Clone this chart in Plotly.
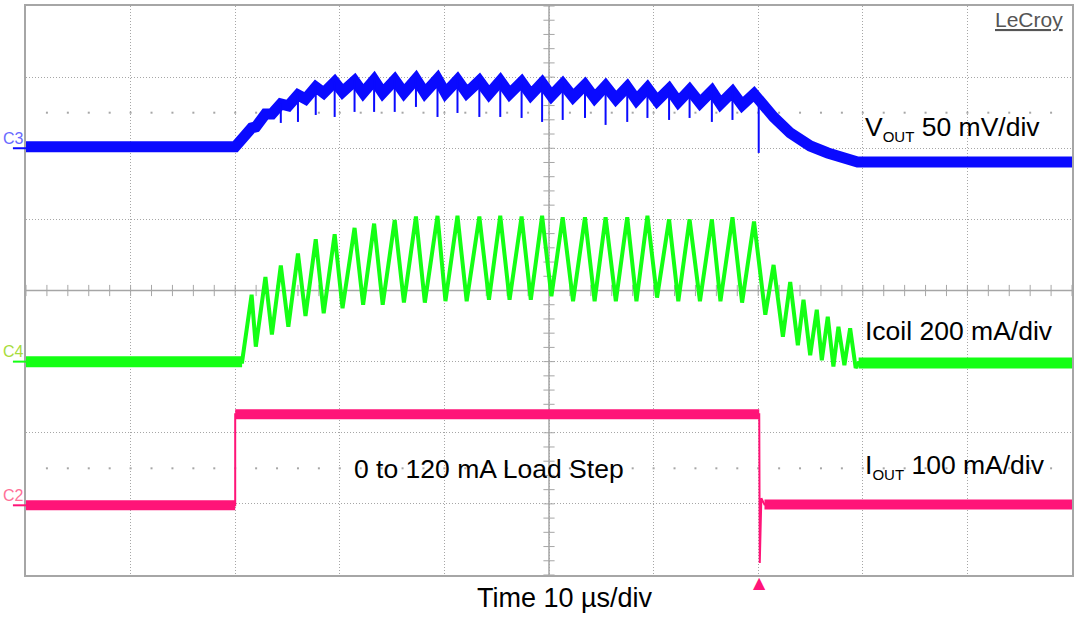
import numpy as np
import plotly.graph_objects as go

# ---------------- data (screen divisions: 0 = centre line, 10 us/div) -------------
# Vout (C3, 50 mV/div)
vout_t = [0, 20.0, 21.57, 21.97, 22.89, 23.51, 24.36, 25.08, 26.0, 26.72, 27.70, 28.46,
          29.51, 30.26, 31.41, 32.23, 33.28, 34.10, 35.25, 36.13, 37.28, 38.13, 39.34, 40.10,
          41.25, 42.13, 43.34, 44.26, 45.34, 46.23, 47.38, 48.26, 49.34, 50.23, 51.31, 52.30,
          53.44, 54.36, 55.41, 56.39, 57.48, 58.36, 59.41, 60.33, 61.48, 62.36, 63.44, 64.43,
          65.57, 66.39, 67.54, 68.46, 69.6, 70.68, 71.47, 73.06, 74.97, 76.65, 78.24, 79.5, 100]
vout_div = [2.02, 2.02, 2.286, 2.300, 2.482, 2.482, 2.623, 2.595, 2.750, 2.693, 2.862, 2.778,
            2.932, 2.792, 2.947, 2.778, 2.961, 2.778, 2.961, 2.778, 2.975, 2.778, 2.975, 2.778,
            2.961, 2.778, 2.947, 2.764, 2.947, 2.764, 2.932, 2.750, 2.918, 2.736, 2.904, 2.721,
            2.890, 2.707, 2.876, 2.693, 2.862, 2.679, 2.848, 2.665, 2.834, 2.651, 2.820, 2.637,
            2.806, 2.623, 2.792, 2.609, 2.764, 2.539, 2.440, 2.215, 2.032, 1.934, 1.850, 1.807, 1.807]
# Vout switching spikes
spike_t = [24.36, 26.0, 27.70, 29.51, 31.41, 33.28, 35.25, 37.28, 39.34, 41.25, 43.34, 45.34,
           47.38, 49.34, 51.31, 53.44, 55.41, 57.48, 59.41, 61.48, 63.44, 65.57, 67.54, 70.05]
spike_top = [2.623, 2.750, 2.862, 2.932, 2.947, 2.961, 2.961, 2.975, 2.975, 2.961, 2.947, 2.947,
             2.932, 2.918, 2.904, 2.890, 2.876, 2.862, 2.848, 2.834, 2.820, 2.806, 2.792, 2.70]
spike_bottom = [2.356, 2.370, 2.468, 2.440, 2.511, 2.511, 2.511, 2.581, 2.440, 2.496, 2.440, 2.440,
                2.426, 2.370, 2.398, 2.426, 2.328, 2.370, 2.426, 2.398, 2.426, 2.370, 2.398, 1.934]

# Icoil (C4, 200 mA/div)
icoil_t = [0, 20.66, 21.57, 21.97, 22.89, 23.51, 24.36, 25.08, 26.0, 26.72, 27.70, 28.46,
           29.51, 30.26, 31.41, 32.23, 33.28, 34.10, 35.25, 36.13, 37.28, 38.13, 39.34, 40.10,
           41.25, 42.13, 43.34, 44.26, 45.34, 46.23, 47.38, 48.26, 49.34, 50.23, 51.31, 52.30,
           53.44, 54.36, 55.41, 56.39, 57.48, 58.36, 59.41, 60.33, 61.48, 62.36, 63.44, 64.43,
           65.57, 66.39, 67.54, 68.46, 69.6, 70.68, 71.47, 72.36, 73.06, 73.79, 74.33, 74.97,
           75.60, 76.08, 76.65, 77.19, 77.67, 78.24, 78.79, 79.32, 79.6, 100]
icoil_div = [-1.0, -1.0, -0.06, -0.79, 0.19, -0.62, 0.35, -0.51, 0.52, -0.36, 0.72, -0.32,
             0.79, -0.25, 0.88, -0.2, 0.94, -0.2, 0.99, -0.17, 1.04, -0.17, 1.05, -0.15,
             1.05, -0.15, 1.04, -0.13, 1.05, -0.13, 1.04, -0.13, 1.05, -0.08, 1.03, -0.15,
             1.03, -0.15, 1.03, -0.15, 1.03, -0.15, 1.05, -0.1, 1.0, -0.15, 1.0, -0.15,
             1.0, -0.15, 1.03, -0.17, 0.97, -0.34, 0.36, -0.65, 0.12, -0.77, -0.13, -0.91,
             -0.27, -0.98, -0.37, -1.07, -0.51, -1.05, -0.53, -1.09, -1.02, -1.02]

# Iout (C2, 100 mA/div)
iout_t = [0, 20.0, 20.0, 70.1, 70.15, 70.3, 70.6, 100]
iout_div = [-3.02, -3.02, -1.74, -1.74, -3.83, -2.92, -3.01, -3.01]

channel_names = ["C3", "C4", "C2"]
channel_ground = [2.0, -1.0, -3.02]
trigger_t = 70.1

label_texts = ["V<sub><span style='font-size:15px'>OUT</span></sub> 50 mV/div",
               "Icoil 200 mA/div",
               "I<sub><span style='font-size:15px'>OUT</span></sub> 100 mA/div",
               "0 to 120 mA Load Step"]
time_label = "Time 10 µs/div"
brand = "LeCroy"

# ---------------- styling ----------------
BLUE = "#0a0aff"
GREEN = "#14ff14"
PINK = "#ff1478"
GRID = "#a6a6a6"
FONT = "Liberation Sans, Arial, sans-serif"
Y0, Y1 = -4.0, 4.0
X0, X1 = 0.0, 100.0

fig = go.Figure()

# graticule ticks on centre lines and dotted rows
tick_x = np.arange(0, 100.01, 2)
tick_y = np.arange(-4, 4.001, 0.2)
fig.add_trace(go.Scatter(x=tick_x, y=np.zeros_like(tick_x), mode="markers",
                         marker=dict(symbol="line-ns", size=8, line=dict(color=GRID, width=1)),
                         hoverinfo="skip", showlegend=False))
fig.add_trace(go.Scatter(x=np.full_like(tick_y, 50.0), y=tick_y, mode="markers",
                         marker=dict(symbol="line-ew", size=8, line=dict(color=GRID, width=1)),
                         hoverinfo="skip", showlegend=False))
dot_x = np.arange(2, 99, 2)
for yy in (2.5, -2.5):
    fig.add_trace(go.Scatter(x=dot_x, y=np.full_like(dot_x, yy, dtype=float), mode="markers",
                             marker=dict(symbol="square", size=2, color=GRID),
                             hoverinfo="skip", showlegend=False))


def add_wave(t, v, color, width, bands, band_width):
    fig.add_trace(go.Scatter(x=t, y=v, mode="lines", line=dict(color=color, width=width),
                             hoverinfo="skip", showlegend=False))
    for i0, i1 in bands:
        fig.add_trace(go.Scatter(x=[t[i0], t[i1]], y=[v[i0], v[i1]], mode="lines",
                                 line=dict(color=color, width=band_width),
                                 hoverinfo="skip", showlegend=False))


# Iout
add_wave(iout_t, iout_div, PINK, 2, [(0, 1), (2, 3), (6, 7)], 10)
# Icoil
add_wave(icoil_t, icoil_div, GREEN, 4, [(0, 1), (len(icoil_t) - 2, len(icoil_t) - 1)], 11)
# Vout
fig.add_trace(go.Scatter(x=vout_t, y=vout_div, mode="lines", line=dict(color=BLUE, width=11),
                         hoverinfo="skip", showlegend=False))
sx, sy = [], []
for t, a, b in zip(spike_t, spike_top, spike_bottom):
    sx += [t, t, None]
    sy += [a, b, None]
fig.add_trace(go.Scatter(x=sx, y=sy, mode="lines", line=dict(color=BLUE, width=2),
                         hoverinfo="skip", showlegend=False))


def py(v):  # division -> paper fraction
    return (v - Y0) / (Y1 - Y0)


ch_colors = [BLUE, GREEN, PINK]
ch_text_colors = ["#6a6aff", "#a8dc3c", "#ff7098"]

shapes = [
    dict(type="line", xref="x", yref="y", x0=50, x1=50, y0=Y0, y1=Y1,
         line=dict(color=GRID, width=1.5), layer="below"),
    dict(type="line", xref="x", yref="y", x0=X0, x1=X1, y0=0, y1=0,
         line=dict(color=GRID, width=1.5), layer="below"),
]
for g, c in zip(channel_ground, ch_colors):
    shapes.append(dict(type="line", xref="paper", yref="paper", x0=-0.0125, x1=0.0,
                       y0=py(g), y1=py(g), line=dict(color=c, width=2)))

annotations = []
for name, g, c in zip(channel_names, channel_ground, ch_text_colors):
    annotations.append(dict(x=0.0, y=py(g + 0.14), xref="paper", yref="paper", text=name,
                            showarrow=False, xanchor="right", yanchor="middle",
                            font=dict(family=FONT, size=16, color=c)))
label_pos = [(80.0, 2.28, "left"), (80.0, -0.57, "left"), (80.0, -2.48, "left"),
             (44.27, -2.51, "center")]
for txt, (lx, ly, anc) in zip(label_texts, label_pos):
    annotations.append(dict(x=lx, y=ly, xref="x", yref="y", text=txt, showarrow=False,
                            xanchor=anc, yanchor="middle",
                            font=dict(family=FONT, size=26.5, color="black")))
annotations.append(dict(x=51.5, y=-0.0413, xref="x", yref="paper", text=time_label,
                        showarrow=False, xanchor="center", yanchor="middle",
                        font=dict(family=FONT, size=27, color="black")))
annotations.append(dict(x=0.9935, y=0.977, xref="paper", yref="paper", text="<u>" + brand + "</u>",
                        showarrow=False, xanchor="right", yanchor="middle",
                        font=dict(family=FONT, size=21, color="#555555")))
# trigger marker below the grid
annotations.append(dict(x=trigger_t, y=-0.013, xref="x", yref="paper", text="▲",
                        showarrow=False, xanchor="center", yanchor="middle",
                        font=dict(family="DejaVu Sans", size=16, color=PINK)))

fig.update_layout(
    width=1076, height=618,
    margin=dict(l=26, r=2, t=6, b=43),
    paper_bgcolor="white", plot_bgcolor="white",
    annotations=annotations,
    shapes=shapes,
)
axis_common = dict(showgrid=True, gridcolor=GRID, gridwidth=1, griddash="1px,2px",
                   showticklabels=False, ticks="", zeroline=False, showline=True, mirror=True,
                   linecolor=GRID, linewidth=1.5, fixedrange=True)
fig.update_xaxes(range=[X0, X1], dtick=10, tick0=0, **axis_common)
fig.update_yaxes(range=[Y0, Y1], dtick=1, tick0=0, **axis_common)

fig.write_html("out.html", config={"displayModeBar": False},
               post_script="document.body.style.margin='0';document.body.style.overflow='hidden';")
